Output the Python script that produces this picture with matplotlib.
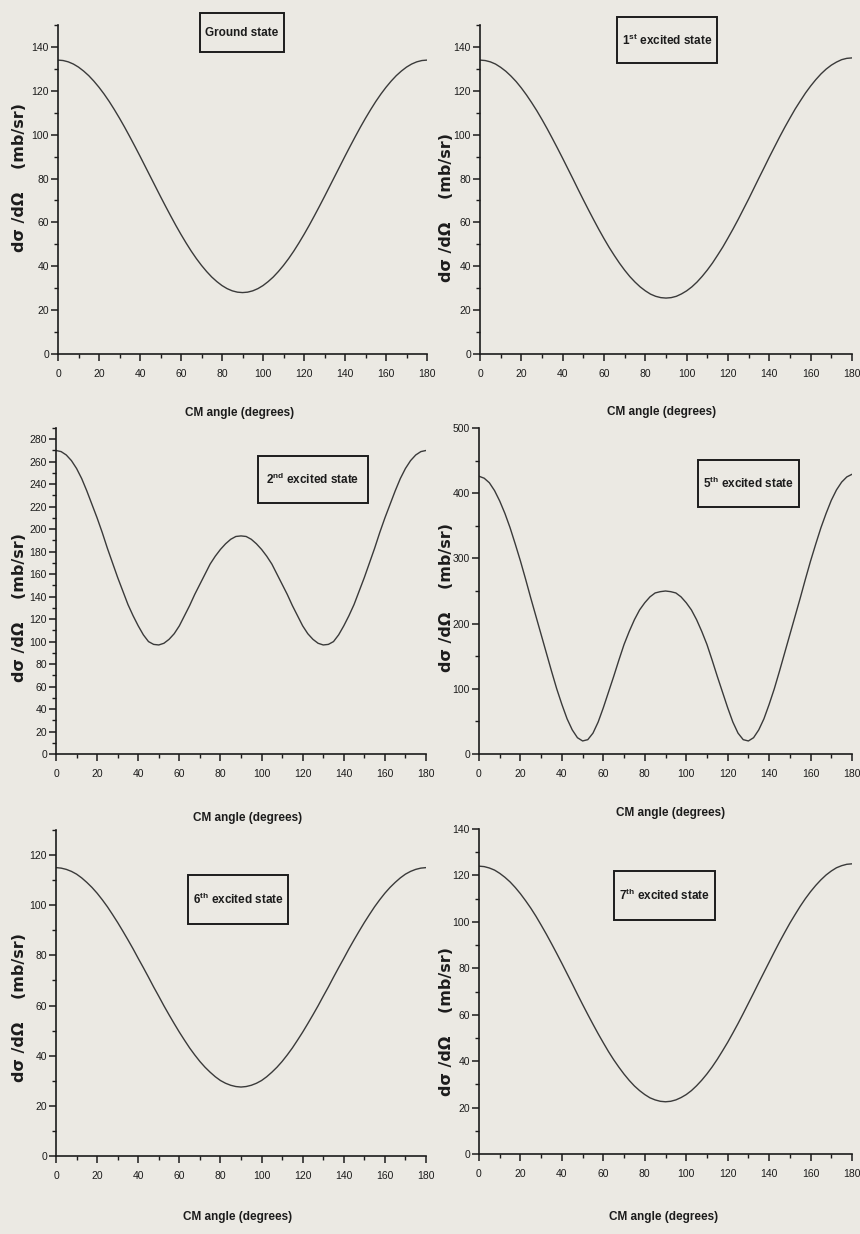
import numpy as np
import matplotlib
matplotlib.use("Agg")
import matplotlib.pyplot as plt
from matplotlib import font_manager as fm
from matplotlib.patches import Rectangle
from matplotlib.ticker import MultipleLocator

# ---------------------------------------------------------------- data
angles = np.arange(0, 180.1, 2.5)  # CM angle (degrees)

ground_state = [134, 133.8, 133.2, 132.2, 130.8, 129, 126.9, 124.4, 121.6, 118.5, 115.1, 111.4,
                107.5, 103.4, 99.1, 94.7, 90.2, 85.6, 81, 76.4, 71.8, 67.3, 62.9, 58.6, 54.5,
                50.6, 46.9, 43.5, 40.4, 37.6, 35.1, 33, 31.2, 29.8, 28.8, 28.2, 28,
                28.2, 28.8, 29.8, 31.2, 33, 35.1, 37.6, 40.4, 43.5, 46.9, 50.6, 54.5, 58.6,
                62.9, 67.3, 71.8, 76.4, 81, 85.6, 90.2, 94.7, 99.1, 103.4, 107.5, 111.4, 115.1,
                118.5, 121.6, 124.4, 126.9, 129, 130.8, 132.2, 133.2, 133.8, 134]
excited_1 = [134, 133.8, 133.2, 132.2, 130.7, 128.9, 126.7, 124.2, 121.3, 118.1, 114.6, 110.9,
             106.9, 102.7, 98.3, 93.8, 89.2, 84.5, 79.8, 75, 70.3, 65.7, 61.2, 56.8, 52.6,
             48.6, 44.9, 41.4, 38.2, 35.3, 32.8, 30.6, 28.8, 27.3, 26.3, 25.7, 25.5,
             25.7, 26.3, 27.4, 28.8, 30.6, 32.8, 35.4, 38.3, 41.5, 45.1, 48.8, 52.9, 57.1,
             61.5, 66.1, 70.7, 75.5, 80.3, 85, 89.8, 94.4, 99, 103.4, 107.6, 111.7, 115.4,
             119, 122.2, 125.1, 127.7, 129.9, 131.7, 133.1, 134.2, 134.8, 135]
excited_2 = [270, 269, 266, 261, 254, 245, 234, 222, 210, 197, 183, 170, 157, 145, 133, 123,
             114, 106, 100, 97.5, 97, 98.5, 102, 107, 114, 123, 132, 142, 151, 160, 169, 176,
             182, 187, 191, 193.5, 194,
             193.5, 191, 187, 182, 176, 169, 160, 151, 142, 132, 123, 114, 107, 102, 98.5,
             97, 97.5, 100, 106, 114, 123, 133, 145, 157, 170, 183, 197, 210, 222, 234, 245,
             254, 261, 266, 269, 270]
excited_5 = [426, 423, 416, 404, 388, 369, 347, 322, 296, 268, 239, 211, 183, 155, 127, 100,
             76, 54, 37, 25, 20, 22, 32, 49, 71, 95, 119, 144, 168, 188, 206, 221, 232, 241,
             247, 249, 250,
             249, 247, 241, 232, 221, 206, 188, 168, 144, 119, 95, 71, 49, 32, 22, 20, 25,
             37, 54, 76, 100, 127, 155, 183, 211, 239, 268, 296, 322, 347, 369, 389, 405,
             417, 425, 429]
excited_6 = [115, 114.8, 114.3, 113.5, 112.4, 110.9, 109.1, 107.1, 104.8, 102.2, 99.4, 96.3,
             93.1, 89.7, 86.2, 82.6, 78.8, 75.1, 71.3, 67.4, 63.7, 59.9, 56.3, 52.8, 49.4,
             46.2, 43.1, 40.3, 37.7, 35.4, 33.4, 31.6, 30.1, 29, 28.2, 27.7, 27.5,
             27.7, 28.2, 29, 30.1, 31.6, 33.4, 35.4, 37.7, 40.3, 43.1, 46.2, 49.4, 52.8,
             56.3, 59.9, 63.7, 67.4, 71.3, 75.1, 78.8, 82.6, 86.2, 89.7, 93.1, 96.3, 99.4,
             102.2, 104.8, 107.1, 109.1, 110.9, 112.4, 113.5, 114.3, 114.8, 115]
excited_7 = [124, 123.8, 123.2, 122.3, 120.9, 119.2, 117.2, 114.8, 112.1, 109.1, 105.9, 102.4,
             98.6, 94.7, 90.6, 86.4, 82.1, 77.7, 73.3, 68.8, 64.4, 60.1, 55.9, 51.8, 47.9,
             44.1, 40.6, 37.4, 34.4, 31.7, 29.3, 27.3, 25.6, 24.2, 23.3, 22.7, 22.5,
             22.7, 23.3, 24.3, 25.6, 27.3, 29.4, 31.8, 34.5, 37.5, 40.8, 44.4, 48.1, 52.1,
             56.2, 60.5, 64.9, 69.3, 73.8, 78.2, 82.6, 87, 91.3, 95.4, 99.4, 103.1, 106.7,
             110, 113, 115.7, 118.1, 120.2, 121.9, 123.3, 124.2, 124.8, 125]

state_labels = ["Ground state",
                r"1$^{\mathrm{st}}$ excited state",
                r"2$^{\mathrm{nd}}$ excited state",
                r"5$^{\mathrm{th}}$ excited state",
                r"6$^{\mathrm{th}}$ excited state",
                r"7$^{\mathrm{th}}$ excited state"]
series = [ground_state, excited_1, excited_2, excited_5, excited_6, excited_7]
y_tops = [150, 150, 290, 500, 130, 140]
y_major = [20, 20, 20, 100, 20, 20]
y_minor = [10, 10, 10, 50, 10, 10]

x_label = "CM angle (degrees)"
y_label = "d\u03c3 /d\u03a9    (mb/sr)"

# ---------------------------------------------------------------- style
names = {f.name for f in fm.fontManager.ttflist}
NARROW = "Liberation Sans Narrow" if "Liberation Sans Narrow" in names else "Liberation Sans"
plt.rcParams["font.family"] = [NARROW, "DejaVu Sans"]
plt.rcParams["mathtext.fontset"] = "custom"
plt.rcParams["mathtext.rm"] = f"{NARROW}:bold"
plt.rcParams["mathtext.bf"] = f"{NARROW}:bold"

BG = "#ebe9e3"
INK = "#1c1c1c"
W, H = 860, 1234

fig = plt.figure(figsize=(W / 100, H / 100), dpi=100, facecolor=BG)

# panel geometry in pixels: left, top, right, bottom
panels = [(58, 25, 427, 354), (480, 25, 852, 354),
          (56, 428, 426, 754), (479, 428, 852, 754),
          (56, 830, 426, 1156), (479, 829, 852, 1154)]
boxes = [(200, 13, 284, 52), (617, 17, 717, 63),
         (258, 456, 368, 503), (698, 460, 799, 507),
         (188, 875, 288, 924), (614, 871, 715, 920)]
xlabel_pos = [(240, 413), (662, 412), (248, 818), (671, 813), (238, 1217), (664, 1217)]
ylabel_pos = [(20, 177), (446, 207), (20, 608), (446, 597), (20, 1008), (446, 1021)]


def fx(px):
    return px / W


def fy(py):
    return 1 - py / H


for i in range(6):
    l, t, r, b = panels[i]
    ax = fig.add_axes([fx(l), fy(b), (r - l) / W, (b - t) / H])
    ax.set_facecolor("none")
    ax.plot(angles, series[i], color="#3a3a3a", lw=1.0, solid_joinstyle="round")
    for side in ("top", "right"):
        ax.spines[side].set_visible(False)
    for side in ("left", "bottom"):
        ax.spines[side].set_color(INK)
        ax.spines[side].set_linewidth(1.2)
    ax.set_xticks(np.arange(0, 181, 20))
    ax.xaxis.set_minor_locator(MultipleLocator(10))
    ax.set_yticks(np.arange(0, y_tops[i] + 0.1, y_major[i]))
    ax.yaxis.set_minor_locator(MultipleLocator(y_minor[i]))
    ax.set_xlim(0, 180)
    ax.set_ylim(0, y_tops[i])
    ax.tick_params(which="major", direction="out", length=5, width=1.1, color=INK,
                   labelsize=7.5, labelcolor=INK)
    ax.tick_params(which="minor", direction="out", length=3, width=1.0, color=INK)
    ax.tick_params(axis="x", which="major", pad=6)
    ax.tick_params(axis="y", which="major", pad=1.5)

    # state caption in a framed box
    bx0, by0, bx1, by1 = boxes[i]
    fig.add_artist(Rectangle((fx(bx0), fy(by1)), (bx1 - bx0) / W, (by1 - by0) / H,
                             transform=fig.transFigure, facecolor="none",
                             edgecolor=INK, lw=1.4))
    fig.text(fx((bx0 + bx1) / 2), fy((by0 + by1) / 2), state_labels[i],
             ha="center", va="center", fontsize=8.5, fontweight="bold", color=INK)

    xl, yl = xlabel_pos[i]
    fig.text(fx(xl), fy(yl), x_label, ha="center", va="center",
             fontsize=8.5, fontweight="bold", color=INK)
    yx, yy = ylabel_pos[i]
    fig.text(fx(yx), fy(yy), y_label, ha="center", va="center", rotation=90,
             fontsize=11.5, fontweight="bold", color=INK,
             family=["DejaVu Sans"])

fig.savefig("out.png", dpi=100, facecolor=BG)
